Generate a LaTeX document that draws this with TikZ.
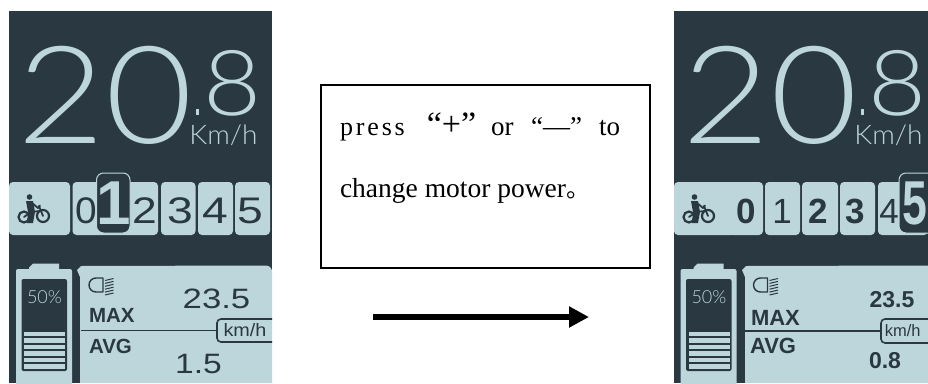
\documentclass[tikz,border=0pt]{standalone}
\usepackage{fontspec}
\setmainfont{Liberation Sans}
\newfontfamily\thinf{Lato Light}
\newfontfamily\serf{Liberation Serif}
\newfontfamily\serfw[LetterSpace=11]{Liberation Serif}
\newfontfamily\cjkf{Noto Sans CJK SC}
\usetikzlibrary{arrows.meta}
\definecolor{dk}{HTML}{2A3841}
\definecolor{lt}{HTML}{BDD6DC}
\newcommand{\fs}[1]{\fontsize{#1}{#1}\selectfont}
\newcommand{\wide}[2]{\scalebox{#1}[1]{#2}}
\tikzset{
  txt/.style={inner sep=0,outer sep=0,text=dk,anchor=base},
  ltxt/.style={inner sep=0,outer sep=0,text=lt,anchor=base},
  lbl/.style={inner sep=0,outer sep=0,text=dk,anchor=base west},
  cell/.style={fill=lt,rounded corners=4pt},
  bikeline/.style={draw=dk,line width=1.8pt,line cap=round,line join=round},
  wheel/.style={draw=dk,line width=2.2pt},
  boxtxt/.style={inner sep=0,outer sep=0,text=black,anchor=base west},
  boxmid/.style={inner sep=0,outer sep=0,text=black,anchor=base},
}
% common display furniture: #1 name prefix, #2 x offset
\newcommand{\topread}[2]{%
  \begin{scope}[shift={(#2,0)}]
    \node[ltxt] (#1big) at (105.5,143) {\thinf\fs{136}\wide{1.11}{20}};
    \node[ltxt] (#1dec) at (233,115) {\thinf\fs{91}\wide{1.1}{8}};
    \node[ltxt] (#1unit) at (223.5,144) {\thinf\fs{27}\wide{1.04}{Km/h}};
    \fill[lt] (196,109) rectangle (198.5,115);
    % bike icon
    \fill[cell] (9,182) -- (70,182) -- (70,235) -- (9,235) -- cycle;
    \draw[wheel] (24,217) circle (5.5);
    \draw[wheel] (43,216) circle (6);
    \fill[dk] (29.5,197) circle (2.8);
    \fill[dk] (26,201) -- (33,201) -- (35,212) -- (33,223) -- (27,223) -- (28,212) -- cycle;
    \draw[bikeline] (32,203) -- (38,208) -- (40,205.5);
    \draw[bikeline] (39,206) -- (43,216);
    \draw[bikeline] (24,217) -- (31,212) -- (40,211);
  \end{scope}}
\newcommand{\battery}[2]{%
  \begin{scope}[shift={(#2,0)}]
    \fill[lt] (33,263.5) -- (59,263.5) -- (59,270) -- (29,270) -- (29,267.5) -- cycle;
    \fill[lt,rounded corners=2pt] (16,269) rectangle (72,390);
    \fill[dk,rounded corners=2pt] (21.5,279) rectangle (67,371);
    \node[ltxt] (#1pct) at (44.5,303) {\thinf\fs{18}50\%};
    \foreach \i in {0,...,5} \fill[lt] (24,331.5+6.5*\i) rectangle (65,336.3+6.5*\i);
    % headlamp icon
    \draw[dk,line width=1.4pt,line join=round] (103,278) -- (96,278) arc[start angle=-90,end angle=-270,radius=7] -- (103,292) -- cycle;
    \foreach \i in {0,...,5} \draw[dk,line width=1pt] (105,280.5+2.9*\i) -- (113.5,278.5+2.9*\i);
  \end{scope}}
\begin{document}
\begin{tikzpicture}[x=1pt,y=-1pt]
\useasboundingbox (0,0) rectangle (928,383);
\fill[white] (0,0) rectangle (928,383);
% ---------- left panel
\fill[dk] (9,11) rectangle (272,383);
\topread{l}{0}
\fill[cell] (72.5,182) rectangle (158,235);
\fill[cell] (161,182) rectangle (195.5,235);
\fill[cell] (198,182) rectangle (233,235);
\fill[cell] (235,182) rectangle (270,235);
\node[txt] (l0) at (86,223) {\fs{37}\wide{1.05}{0}};
\node[txt] (l2) at (144.5,223) {\fs{37}\wide{1.2}{2}};
\node[txt] (l3) at (180,223) {\fs{37}\wide{1.25}{3}};
\node[txt] (l4) at (215,223) {\fs{37}\wide{1.25}{4}};
\node[txt] (l5) at (250,223) {\fs{37}\wide{1.25}{5}};
\draw[lt,line width=1pt,fill=dk,rounded corners=7pt] (96.5,173) rectangle (130,233);
\node[ltxt] (l1) at (114,224) {\fs{62}\bfseries 1};
\fill[lt] (77,270) -- (81,266) -- (266,265.5) arc[start angle=-90,end angle=0,radius=6] -- (272,383) -- (80,383) -- (80,277) -- cycle;
\battery{l}{0}
\node[lbl] (lmax) at (89,322.5) {\bfseries\fs{20.5}MAX};
\node[lbl] (lavg) at (89,353) {\bfseries\fs{20.5}AVG};
\node[txt] (lv1) at (216.5,308) {\fs{28}\wide{1.24}{23.5}};
\node[txt] (lv2) at (198.5,373) {\fs{28}\wide{1.2}{1.5}};
\draw[dk,line width=1.6pt] (81,330.5) -- (217,330.5);
\draw[dk,line width=1.6pt,rounded corners=4pt] (272,319) -- (217,319) -- (217,342) -- (272,342);
\node[txt] (lkm) at (245,336) {\fs{18}\wide{1.1}{km/h}};
% ---------- right panel
\fill[dk] (674,11) rectangle (928,383);
\topread{r}{665}
\fill[cell] (728,182) rectangle (763,235);
\fill[cell] (765,182) rectangle (800,235);
\fill[cell] (802,182) rectangle (838,235);
\fill[cell] (840,182) rectangle (875,235);
\fill[cell] (878,182) rectangle (928,235);
\node[txt] (r0) at (746.5,223) {\bfseries\fs{35}0};
\node[txt] (r1) at (782,223) {\fs{35}1};
\node[txt] (r2) at (818,223) {\bfseries\fs{35}2};
\node[txt] (r3) at (855,223) {\bfseries\fs{35}3};
\node[txt] (r4) at (889,223) {\fs{35}4};
\draw[lt,line width=1pt,fill=dk,rounded corners=7pt] (899,173) rectangle (940,233);
\node[ltxt] (r5) at (914.5,224) {\fs{62}\bfseries\wide{0.72}{5}};
\fill[lt] (742,270) -- (746,266) -- (928,265.5) -- (928,383) -- (745,383) -- (745,277) -- cycle;
\battery{r}{664.5}
\node[lbl] (rmax) at (751,325) {\bfseries\fs{22}MAX};
\node[lbl] (ravg) at (750,353.5) {\bfseries\fs{22}AVG};
\node[txt] (rv1) at (892,307) {\bfseries\fs{23}23.5};
\node[txt] (rv2) at (885,368) {\bfseries\fs{23}0.8};
\draw[dk,line width=1.4pt] (745,331) -- (881,331);
\draw[dk,line width=1.6pt,rounded corners=4pt] (930,319) -- (881,319) -- (881,343) -- (930,343);
\node[lbl] (rkm) at (882,336.5) {\fs{16.5}\,km/h};
% ---------- text box
\node[draw=black,line width=1.7pt,minimum width=329pt,minimum height=183pt,inner sep=0,anchor=north west] (box) at (320,84) {};
\node[boxtxt] (t1) at (340,135) {\serfw\fs{26}press};
\node[boxmid] (t2) at (451.5,135) {\serf\fs{34}“+”};
\node[boxtxt] (t3) at (491,135) {\serf\fs{27}or};
\node[boxmid] (t4) at (556.5,135) {\serf\fs{27}“—”};
\node[boxtxt] (t5) at (599,135) {\serf\fs{27}to};
\node[boxtxt] (t6) at (340,197) {\serf\fs{27.5}change motor power{\cjkf\fs{24}。}};
% ---------- arrow
\coordinate (as) at (373,317);
\coordinate (ae) at (589,317);
\draw[line width=6.5pt,-{Triangle[length=20pt,width=20pt]},black] (as) -- (ae);
\end{tikzpicture}
\end{document}
